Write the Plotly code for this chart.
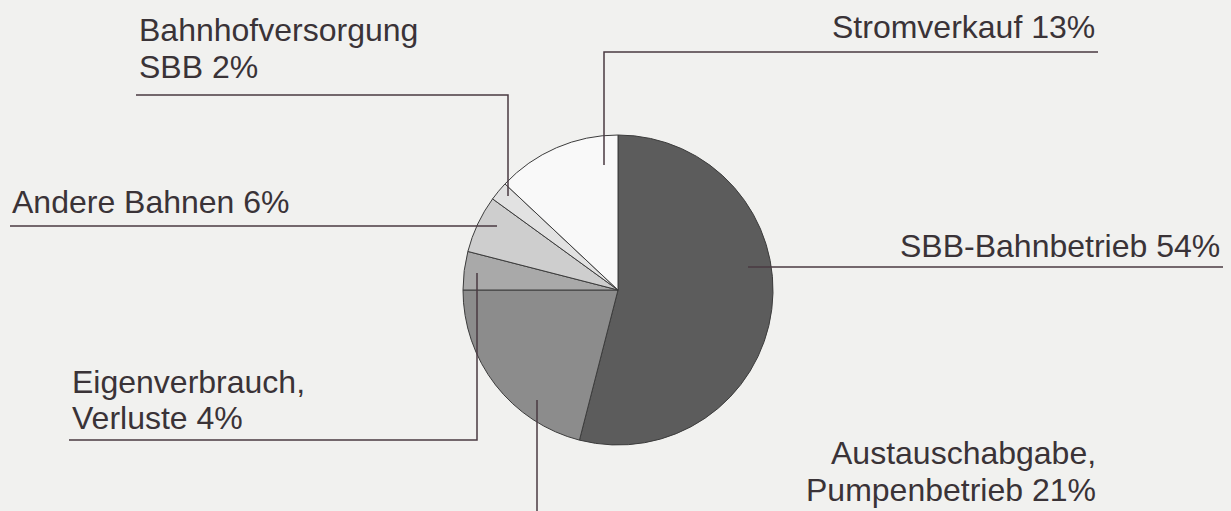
import plotly.graph_objects as go

# ---- data ----
labels = ["SBB-Bahnbetrieb", "Austauschabgabe, Pumpenbetrieb", "Eigenverbrauch, Verluste",
          "Andere Bahnen", "Bahnhofversorgung SBB", "Stromverkauf"]
values = [54, 21, 4, 6, 2, 13]
slice_colors = ["#5c5c5c", "#8c8c8c", "#a9a9a9", "#cecece", "#e2e2e2", "#f9f9f9"]

# label texts (each line separately), built from names and values
label_lines = [
    ("SBB-Bahnbetrieb " + f"{values[0]}%",),
    ("Austauschabgabe,", "Pumpenbetrieb " + f"{values[1]}%"),
    ("Eigenverbrauch,", "Verluste " + f"{values[2]}%"),
    ("Andere Bahnen " + f"{values[3]}%",),
    ("Bahnhofversorgung", "SBB " + f"{values[4]}%"),
    ("Stromverkauf " + f"{values[5]}%",),
]

# ---- layout constants (pixel space) ----
W, H = 1231, 511
CX, CY, R = 618, 290, 155
BG = "#f1f1ef"
INK = "#3a3337"
LINE = "#4a3a42"
FS = 32

# text placement: (x, first line y, anchor, line spacing)
text_pos = [
    (1222, 246, "right", 36),
    (1098, 453, "right", 37),
    (70, 382, "left", 36),
    (10, 202, "left", 36),
    (137, 30, "left", 37),
    (1097, 27, "right", 36),
]
# leader polylines
leaders = [
    [(748, 267), (1223, 267)],
    [(537, 400), (537, 511)],
    [(69, 440), (477, 440), (477, 273)],
    [(10, 226), (497, 226)],
    [(136, 95), (508, 95), (508, 196)],
    [(604, 165), (604, 52), (1098, 52)],
]

fig = go.Figure()
fig.add_trace(go.Pie(
    labels=labels, values=values, sort=False, direction="clockwise", rotation=0,
    marker=dict(colors=slice_colors, line=dict(color="#3c3c3c", width=1)),
    textinfo="none", hoverinfo="label+percent", showlegend=False,
    domain=dict(x=[(CX - R) / W, (CX + R) / W], y=[1 - (CY + R) / H, 1 - (CY - R) / H]),
))

shapes = []
for pts in leaders:
    path = "M " + " L ".join(f"{x},{y}" for x, y in pts)
    shapes.append(dict(type="path", path=path, xref="x", yref="y",
                       line=dict(color=LINE, width=1.5)))

annotations = []
for lines, (x, y0, anchor, sp) in zip(label_lines, text_pos):
    for i, t in enumerate(lines):
        annotations.append(dict(x=x, y=y0 + i * sp, xref="x", yref="y", text=t,
                                showarrow=False, xanchor=anchor, yanchor="middle",
                                font=dict(family="Liberation Sans, Arial, sans-serif",
                                          size=FS, color=INK)))

fig.update_layout(
    width=W, height=H, margin=dict(l=0, r=0, t=0, b=0),
    paper_bgcolor=BG, plot_bgcolor="rgba(0,0,0,0)",
    xaxis=dict(range=[0, W], visible=False, domain=[0, 1], fixedrange=True),
    yaxis=dict(range=[H, 0], visible=False, domain=[0, 1], fixedrange=True),
    shapes=shapes, annotations=annotations,
)

fig.write_html("out.html", config={"displayModeBar": False},
               post_script="document.body.style.margin='0';document.body.style.background='%s';" % BG)
